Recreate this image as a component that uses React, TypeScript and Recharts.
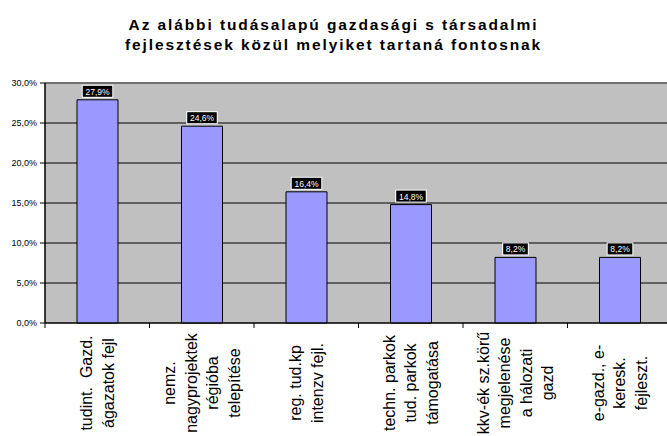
import React from "react";
import {
  BarChart,
  Bar,
  XAxis,
  YAxis,
  CartesianGrid,
  LabelList,
  ReferenceLine,
} from "recharts";

const titleLines = [
  "Az alábbi tudásalapú gazdasági s társadalmi",
  "fejlesztések közül melyiket tartaná fontosnak",
];

const categories = [
  "tudint. Gazd. ágazatok fejl",
  "nemz. nagyprojektek régióba telepítése",
  "reg. tud.kp intenzv fejl.",
  "techn. parkok tud. parkok támogatása",
  "kkv-ék sz.körű megjelenése a hálozati gazd",
  "e-gazd., e-keresk. fejleszt.",
];

const categoryLines = [
  ["tudint.  Gazd.", "ágazatok fejl"],
  ["nemz.", "nagyprojektek", "régióba", "telepítése"],
  ["reg. tud.kp", "intenzv fejl."],
  ["techn. parkok", "tud. parkok", "támogatása"],
  ["kkv-ék sz.körű", "megjelenése", "a hálozati", "gazd"],
  ["e-gazd., e-", "keresk.", "fejleszt."],
];

const values = [27.9, 24.6, 16.4, 14.8, 8.2, 8.2];

const yTicks = [0, 5, 10, 15, 20, 25, 30];

const data = categories.map((c, i) => ({ name: c, value: values[i], idx: i }));

const CHART_W = 680;
const CHART_H = 436;
const MARGIN = { top: 83, right: 8, left: 0, bottom: 0 };
const Y_W = 45;
const PLOT_W = CHART_W - MARGIN.left - MARGIN.right - Y_W;
const BAND = PLOT_W / categories.length;

const FONT = "'Liberation Sans', Arial, sans-serif";

const fmt = (v: number) => v.toFixed(1).replace(".", ",") + "%";

function XTick(props: any) {
  const { x, y, payload } = props;
  const lines = categoryLines[payload.index] || [];
  const n = lines.length;
  const lh = 21.5;
  const cy = y + 60;
  const bx = x - BAND / 2;
  return (
    <g>
      <line x1={bx} y1={y} x2={bx} y2={y + 5} stroke="#000" strokeWidth={1} />
      {lines.map((l, i) => {
        const cx = x + (i - (n - 1) / 2) * lh;
        return (
          <text
            key={i}
            x={cx}
            y={cy}
            transform={`rotate(-90 ${cx} ${cy})`}
            textAnchor="middle"
            dominantBaseline="central"
            fontSize={16}
            fontFamily={FONT}
            fill="#000"
            style={{ whiteSpace: "pre" }}
          >
            {l}
          </text>
        );
      })}
    </g>
  );
}

function ValueLabel(props: any) {
  const { x, y, width, value } = props;
  const text = fmt(Number(value));
  const tw = text.length * 4.9;
  const w = tw + 5;
  const h = 11;
  const cx = x + width / 2;
  const top = y - 3 - h;
  return (
    <g>
      <rect x={cx - w / 2 - 1} y={top - 1} width={w + 2} height={h + 2} fill="#fff" />
      <rect x={cx - w / 2} y={top} width={w} height={h} fill="#000" />
      <text
        x={cx}
        y={top + h / 2 + 0.5}
        textAnchor="middle"
        dominantBaseline="central"
        fontSize={8.5}
        fontFamily={FONT}
        fill="#fff"
      >
        {text}
      </text>
    </g>
  );
}

export default function App() {
  return (
    <div
      style={{
        position: "absolute",
        left: 0,
        top: 0,
        width: 667,
        height: 436,
        overflow: "hidden",
        background: "#fff",
      }}
    >
      <div
        style={{
          position: "absolute",
          left: 0,
          top: 15,
          width: 667,
          textAlign: "center",
          fontFamily: FONT,
          fontWeight: "bold",
          fontSize: 15.5,
          lineHeight: "20px",
          letterSpacing: 1.9,
          color: "#000",
        }}
      >
        {titleLines.map((t, i) => (
          <div key={i}>{t}</div>
        ))}
      </div>
      <div style={{ position: "absolute", left: 0, top: 0 }}>
        <BarChart width={CHART_W} height={CHART_H} data={data} margin={MARGIN}>
          <CartesianGrid
            horizontal
            vertical={false}
            stroke="#000"
            strokeOpacity={1}
            fill="#C0C0C0"
            fillOpacity={1}
          />
          <XAxis
            dataKey="name"
            height={113}
            tick={<XTick />}
            tickLine={false}
            tickSize={0}
            tickMargin={0}
            axisLine={{ stroke: "#000", strokeWidth: 1 }}
            interval={0}
          />
          <YAxis
            width={Y_W}
            domain={[0, 30]}
            ticks={yTicks}
            tickFormatter={(v: number) => fmt(v)}
            tickSize={5}
            tickMargin={3}
            tickLine={{ stroke: "#000" }}
            axisLine={{ stroke: "#000", strokeWidth: 1.5 }}
            tick={{ fontSize: 9, fill: "#000", fontFamily: FONT }}
            interval={0}
          />
          <ReferenceLine y={30} stroke="#707070" strokeWidth={2} />
          <Bar
            dataKey="value"
            fill="#9999FF"
            stroke="#000"
            strokeWidth={1}
            barSize={41}
            isAnimationActive={false}
          >
            <LabelList dataKey="value" content={<ValueLabel />} />
          </Bar>
        </BarChart>
      </div>
    </div>
  );
}
